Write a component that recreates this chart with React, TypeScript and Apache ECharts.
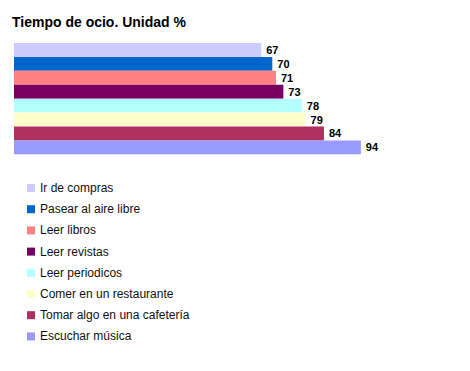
import React, { useEffect, useRef } from "react";
import * as echarts from "echarts";

const categories = [
  "Ir de compras",
  "Pasear al aire libre",
  "Leer libros",
  "Leer revistas",
  "Leer periodicos",
  "Comer en un restaurante",
  "Tomar algo en una cafetería",
  "Escuchar música",
];
const values = [67, 70, 71, 73, 78, 79, 84, 94];
const colors = ["#ccccff", "#0066cc", "#ff8080", "#770060", "#b3ffff", "#ffffcc", "#b03060", "#9999ff"];

export default function App() {
  const ref = useRef<HTMLDivElement>(null);
  useEffect(() => {
    const chart = echarts.init(ref.current!, null, { renderer: "svg" });
    const series = categories.map((name, i) => ({
      name,
      type: "bar",
      stack: "all",
      barCategoryGap: "0%",
      data: categories.map((_, j) => (j === i ? values[i] : "-")),
      itemStyle: { color: colors[i] },
      label: {
        show: true,
        position: "right",
        distance: 5,
        color: "#000",
        fontWeight: "bold",
        fontSize: 11,
        fontFamily: "Liberation Sans, Arial, sans-serif",
      },
    }));
    chart.setOption({
      animation: false,
      backgroundColor: "#fff",
      title: {
        text: "Tiempo de ocio. Unidad %",
        left: -1,
        top: 2,
        textStyle: {
          fontSize: 14,
          fontWeight: "bold",
          color: "#000",
          fontFamily: "Liberation Sans, Arial, sans-serif",
        },
      },
      legend: {
        orient: "vertical",
        left: 14,
        top: 169,
        icon: "rect",
        itemWidth: 8,
        itemHeight: 8,
        itemGap: 9.2,
        data: categories,
        textStyle: {
          fontSize: 12,
          color: "#111",
          fontFamily: "Liberation Sans, Arial, sans-serif",
        },
      },
      grid: { left: 6, top: 35, width: 369, height: 111.3, containLabel: false },
      xAxis: { type: "value", min: 0, max: 100, show: false },
      yAxis: {
        type: "category",
        data: categories,
        inverse: true,
        show: false,
      },
      series,
    });
    return () => chart.dispose();
  }, []);
  return <div ref={ref} style={{ width: 454, height: 355 }} />;
}
